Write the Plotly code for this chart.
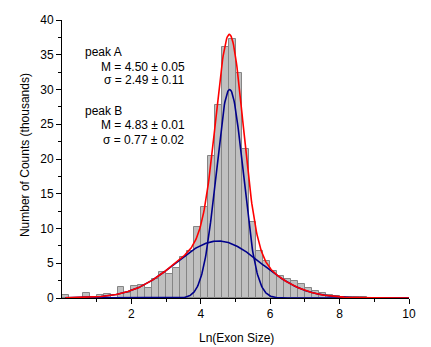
import numpy as np
import plotly.graph_objects as go

# Histogram: bin width 0.2, bins starting at 0
bin_width = 0.2
bin_left_edges = [round(0.2 * k, 1) for k in range(50)]
counts = [0.5, 0, 0, 0.7, 0, 0.5, 0.55, 0, 1.6, 0.65,
          1.75, 1.8, 1.45, 2.7, 3.75, 3.45, 4.35, 5.95, 6.8, 10.2,
          13.1, 20.4, 27.7, 36.1, 37.3, 32.4, 21.4, 11.0, 6.7, 5.3,
          3.9, 3.2, 2.8, 2.4, 2.0, 1.4, 1.0, 0.7, 0.45, 0.3,
          0.2, 0.15, 0.1, 0.08, 0.05, 0, 0, 0, 0, 0]

# Fitted Gaussian peaks (Origin-style width w = 2*sigma)
peak_A = dict(M=4.50, w=2.49, height=8.2)
peak_B = dict(M=4.83, w=0.77, height=30.0)

x_curve = np.linspace(0.1, 10, 600)

def gauss(x, p):
    return p["height"] * np.exp(-2 * (x - p["M"]) ** 2 / p["w"] ** 2)

yA = gauss(x_curve, peak_A)
yB = gauss(x_curve, peak_B)
ysum = yA + yB

x_centers = [e + bin_width / 2 for e in bin_left_edges]

font_family = "Liberation Sans, Arial, sans-serif"

fig = go.Figure()
fig.add_trace(go.Bar(x=x_centers, y=counts, width=bin_width,
                     marker=dict(color="#C0C0C0", line=dict(color="#858585", width=1)),
                     showlegend=False))
fig.add_trace(go.Scatter(x=x_curve, y=yA, mode="lines",
                         line=dict(color="#00008B", width=1.6), showlegend=False))
fig.add_trace(go.Scatter(x=x_curve, y=yB, mode="lines",
                         line=dict(color="#00008B", width=1.6), showlegend=False))
fig.add_trace(go.Scatter(x=x_curve, y=ysum, mode="lines",
                         line=dict(color="#FF0000", width=1.6), showlegend=False))

fig.update_layout(
    width=431, height=347,
    margin=dict(l=62, r=22, t=20, b=49),
    plot_bgcolor="white", paper_bgcolor="white",
    font=dict(family=font_family, size=12, color="black"),
    bargap=0,
    xaxis=dict(range=[0, 10], showline=True, linecolor="black", linewidth=1,
               showgrid=False, zeroline=False, ticks="outside", ticklen=5,
               tickcolor="black", tickmode="array",
               tickvals=[2, 4, 6, 8, 10], ticktext=["2", "4", "6", "8", "10"],
               minor=dict(tickvals=[1, 3, 5, 7, 9], ticks="outside", ticklen=3,
                          tickcolor="black"),
               tickfont=dict(size=12)),
    yaxis=dict(range=[0, 40], showline=True, linecolor="black", linewidth=1,
               showgrid=False, zeroline=False, ticks="outside", ticklen=5,
               tickcolor="black", dtick=5, tick0=0,
               minor=dict(dtick=2.5, tick0=0, ticks="outside", ticklen=3,
                          tickcolor="black"),
               tickfont=dict(size=12)),
)

ann = [
    dict(text="Danio rerio (zebrafish)", x=4.78, y=40.5, xref="x", yref="y",
         xanchor="center", yanchor="middle", font=dict(size=13)),
    dict(text="peak A", x=0.61, y=35.4, xanchor="left"),
    dict(text="M = 4.50 ± 0.05", x=3.59, y=33.25, xanchor="right"),
    dict(text="σ = 2.49 ± 0.11", x=3.57, y=31.4, xanchor="right"),
    dict(text="peak B", x=0.61, y=26.9, xanchor="left"),
    dict(text="M = 4.83 ± 0.01", x=3.59, y=24.9, xanchor="right"),
    dict(text="σ = 0.77 ± 0.02", x=3.57, y=22.75, xanchor="right"),
    dict(text="Ln(Exon Size)", x=0.504, y=-0.144, xref="paper", yref="paper",
         xanchor="center", yanchor="middle", font=dict(size=12)),
    dict(text="Number of Counts (thousands)", x=-0.1066, y=0.514,
         xref="paper", yref="paper", textangle=-90,
         xanchor="center", yanchor="middle", font=dict(size=12)),
]
for a in ann:
    a.setdefault("xref", "x")
    a.setdefault("yref", "y")
    a.setdefault("yanchor", "middle")
    a.setdefault("showarrow", False)
    a.setdefault("font", dict(size=12))
    fig.add_annotation(**a)

fig.write_html("out.html")
